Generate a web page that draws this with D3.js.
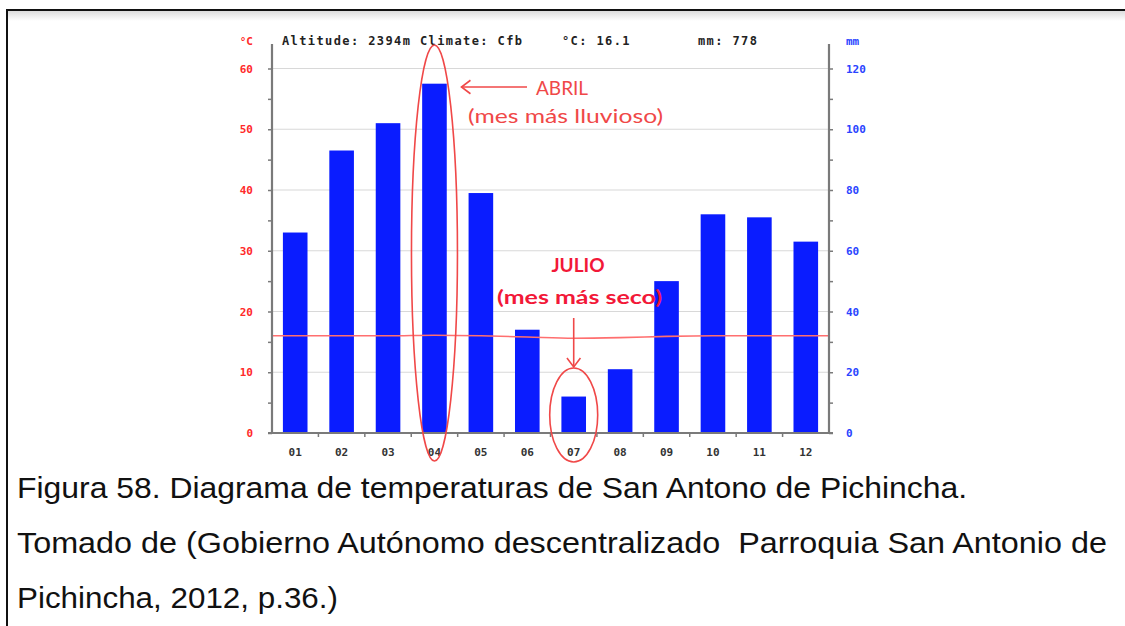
<!DOCTYPE html>
<html>
<head>
<meta charset="utf-8">
<script src="https://cdn.jsdelivr.net/npm/d3@7"></script>
<style>
  body { margin: 0; background: #fff; }
  svg { display: block; }
</style>
</head>
<body>
<div id="chart"></div>
<script>
const WIDTH = 1125
const HEIGHT = 626

// data
const months = ['01', '02', '03', '04', '05', '06', '07', '08', '09', '10', '11', '12'];
const rainMm = [66, 93, 102, 115, 79, 34, 12, 21, 50, 72, 71, 63];
const tempC = [16.0, 16.0, 16.0, 16.1, 16.0, 15.8, 15.6, 15.7, 15.9, 16.0, 16.0, 16.0];
const tempTicks = [0, 10, 20, 30, 40, 50, 60];
const rainTicks = [0, 20, 40, 60, 80, 100, 120];
const headerItems = [
    { text: 'Altitude: 2394m Climate: Cfb', x: 282 },
    { text: '°C: 16.1', x: 562 },
    { text: 'mm: 778', x: 698 }
];
const captionLines = [
    'Figura 58. Diagrama de temperaturas de San Antono de Pichincha.',
    'Tomado de (Gobierno Autónomo descentralizado  Parroquia San Antonio de',
    'Pichincha, 2012, p.36.)'
];
const captionWidths = [950, 1090, 321];

const PIX = "'DejaVu Sans Mono', monospace";
const ANN = "Lato, 'Open Sans', sans-serif";
const RED_AXIS = '#ff2a2a';
const BLUE_AXIS = '#2a44ff';
const BAR = '#0a1cff';
const ANN_RED = '#f04848';
const JUL_RED = '#f21838';

var svg = d3.select("#chart").append("svg")
    .attr("width", WIDTH)
    .attr("height", HEIGHT);

// soft shadow under the top edge of the frame
var defs = svg.append("defs");
var grad = defs.append("linearGradient").attr("id", "shade").attr("x1", 0).attr("x2", 0).attr("y1", 0).attr("y2", 1);
grad.append("stop").attr("offset", "0%").attr("stop-color", "#dcdcdc");
grad.append("stop").attr("offset", "100%").attr("stop-color", "#ffffff");
svg.append("rect")
    .attr("x", 8).attr("y", 11)
    .attr("width", WIDTH - 8).attr("height", 10)
    .attr("fill", "url(#shade)");

// frame of the figure
svg.append("path")
    .attr("d", `M7,${HEIGHT} V10 H${WIDTH}`)
    .attr("fill", "none")
    .attr("stroke", "#111")
    .attr("stroke-width", 2);

const left = 272, right = 829, base = 433;

var x = d3.scaleBand()
    .domain(months)
    .range([left, right])
    .paddingInner(0.47)
    .paddingOuter(0.235);

var xEdge = d3.scaleBand().domain(months).range([left, right]);

var yT = d3.scaleLinear().domain([0, 60]).range([base, 68.5]);
var yR = d3.scaleLinear().domain([0, 120]).range([base, 68.5]);

// gridlines
svg.append("g")
    .selectAll("line")
    .data(tempTicks.slice(1))
    .enter()
    .append("line")
        .attr("x1", left).attr("x2", right)
        .attr("y1", d => yT(d)).attr("y2", d => yT(d))
        .attr("stroke", "#d8d8d8")
        .attr("stroke-width", 1.2);

// bars
svg.append("g")
    .selectAll("rect")
    .data(rainMm)
    .enter()
    .append("rect")
        .attr("x", (d, i) => x(months[i]))
        .attr("width", x.bandwidth())
        .attr("y", d => yR(d))
        .attr("height", d => base - yR(d))
        .attr("fill", BAR);

// temperature line, carried flat to both axes
const tempPts = [[left, tempC[0]]]
    .concat(tempC.map((d, i) => [x(months[i]) + x.bandwidth() / 2, d]))
    .concat([[right, tempC[tempC.length - 1]]]);

var line = d3.line()
    .x(d => d[0])
    .y(d => yT(d[1]))
    .curve(d3.curveMonotoneX);

svg.append("path")
    .datum(tempPts)
    .attr("fill", "none")
    .attr("stroke", "#ff6f6f")
    .attr("stroke-width", 1.6)
    .attr("d", line);

// axes
const axisCol = '#7a7a7a';
var yLeftAxis = d3.axisLeft(yT).tickValues(d3.range(0, 61, 5)).tickSize(4).tickFormat('');
var gl = svg.append("g").attr("transform", `translate(${left},0)`).call(yLeftAxis);
gl.select(".domain").attr("d", `M0,${base}V44`);
var yRightAxis = d3.axisRight(yR).tickValues(d3.range(0, 121, 10)).tickSize(4).tickFormat('');
var gr = svg.append("g").attr("transform", `translate(${right},0)`).call(yRightAxis);
gr.select(".domain").attr("d", `M0,${base}V44`);
[gl, gr].forEach(g => {
    g.selectAll("line").attr("stroke", axisCol).attr("stroke-width", 1.5);
    g.select(".domain").attr("stroke", axisCol).attr("stroke-width", 2.2);
});

var gx = svg.append("g");
gx.append("line")
    .attr("x1", left - 4).attr("x2", right + 4)
    .attr("y1", base).attr("y2", base)
    .attr("stroke", axisCol).attr("stroke-width", 2.2);
gx.selectAll(".xt")
    .data(months.slice(1))
    .enter()
    .append("line")
        .attr("x1", d => xEdge(d)).attr("x2", d => xEdge(d))
        .attr("y1", base).attr("y2", base + 4)
        .attr("stroke", axisCol).attr("stroke-width", 1.5);
gx.selectAll("text")
    .data(months)
    .enter()
    .append("text")
        .attr("x", d => x(d) + x.bandwidth() / 2)
        .attr("y", base + 23)
        .attr("text-anchor", "middle")
        .attr("font-family", PIX)
        .attr("font-weight", "bold")
        .attr("font-size", "11px")
        .attr("fill", "#333")
        .text(d => d);

// axis labels
svg.append("g")
    .selectAll("text")
    .data(tempTicks)
    .enter()
    .append("text")
        .attr("x", 253)
        .attr("y", d => yT(d) + 4)
        .attr("text-anchor", "end")
        .attr("font-family", PIX)
        .attr("font-weight", "bold")
        .attr("font-size", "11px")
        .attr("fill", RED_AXIS)
        .text(d => d);

svg.append("g")
    .selectAll("text")
    .data(rainTicks)
    .enter()
    .append("text")
        .attr("x", 846)
        .attr("y", d => yR(d) + 4)
        .attr("font-family", PIX)
        .attr("font-weight", "bold")
        .attr("font-size", "11px")
        .attr("fill", BLUE_AXIS)
        .text(d => d);

svg.append("text")
    .attr("x", 253).attr("y", 45)
    .attr("text-anchor", "end")
    .attr("font-family", PIX).attr("font-weight", "bold").attr("font-size", "11px")
    .attr("fill", RED_AXIS)
    .text("°C");
svg.append("text")
    .attr("x", 846).attr("y", 45)
    .attr("font-family", PIX).attr("font-weight", "bold").attr("font-size", "11px")
    .attr("fill", BLUE_AXIS)
    .text("mm");

// header
svg.append("g")
    .selectAll("text")
    .data(headerItems)
    .enter()
    .append("text")
        .attr("x", d => d.x)
        .attr("y", 45)
        .attr("font-family", PIX)
        .attr("font-weight", "bold")
        .attr("font-size", "12px")
        .attr("letter-spacing", "1.4px")
        .attr("fill", "#222")
        .text(d => d.text);

// annotations
function arrowHead(g, tipX, tipY, dir, col) {
    const s = 9;
    const pts = dir === 'left'
        ? [[tipX + s, tipY - s * 0.75], [tipX, tipY], [tipX + s, tipY + s * 0.75]]
        : [[tipX - s * 0.75, tipY - s], [tipX, tipY], [tipX + s * 0.75, tipY - s]];
    g.append("path")
        .attr("d", d3.line()(pts))
        .attr("fill", "none")
        .attr("stroke", col)
        .attr("stroke-width", 1.6);
}

var ann = svg.append("g");
const aprX = x('04') + x.bandwidth() / 2;
ann.append("ellipse")
    .attr("cx", aprX).attr("cy", 253)
    .attr("rx", 23).attr("ry", 208)
    .attr("fill", "none").attr("stroke", ANN_RED).attr("stroke-width", 1.6);
ann.append("line")
    .attr("x1", aprX + 27).attr("x2", 527)
    .attr("y1", 87).attr("y2", 87)
    .attr("stroke", ANN_RED).attr("stroke-width", 1.6);
arrowHead(ann, aprX + 27, 87, 'left', ANN_RED);
ann.append("text")
    .attr("x", 536).attr("y", 95)
    .attr("font-family", ANN).attr("font-size", "19px")
    .attr("fill", ANN_RED)
    .text("ABRIL");
ann.append("text")
    .attr("x", 468).attr("y", 123)
    .attr("font-family", ANN).attr("font-size", "19px")
    .attr("textLength", 195).attr("lengthAdjust", "spacingAndGlyphs")
    .attr("fill", ANN_RED)
    .text("(mes más lluvioso)");

const julX = x('07') + x.bandwidth() / 2;
ann.append("ellipse")
    .attr("cx", julX).attr("cy", 415)
    .attr("rx", 24).attr("ry", 47)
    .attr("fill", "none").attr("stroke", ANN_RED).attr("stroke-width", 1.6);
ann.append("line")
    .attr("x1", julX).attr("x2", julX)
    .attr("y1", 318).attr("y2", 367)
    .attr("stroke", ANN_RED).attr("stroke-width", 1.6);
arrowHead(ann, julX, 367, 'down', ANN_RED);
ann.append("text")
    .attr("x", 578).attr("y", 272)
    .attr("text-anchor", "middle")
    .attr("font-family", ANN).attr("font-weight", "bold").attr("font-size", "19px")
    .attr("fill", JUL_RED)
    .text("JULIO");
ann.append("text")
    .attr("x", 497).attr("y", 304)
    .attr("font-family", ANN).attr("font-weight", "bold").attr("font-size", "19px")
    .attr("textLength", 165).attr("lengthAdjust", "spacingAndGlyphs")
    .attr("fill", JUL_RED)
    .text("(mes más seco)");

// caption
svg.append("g")
    .selectAll("text")
    .data(captionLines)
    .enter()
    .append("text")
        .attr("x", 17)
        .attr("y", (d, i) => 498 + i * 55)
        .attr("font-family", "'Liberation Sans', Arial, sans-serif")
        .attr("font-size", "29px")
        .attr("textLength", (d, i) => captionWidths[i])
        .attr("lengthAdjust", "spacingAndGlyphs")
        .style("white-space", "pre")
        .attr("fill", "#111")
        .text(d => d);
</script>
</body>
</html>
